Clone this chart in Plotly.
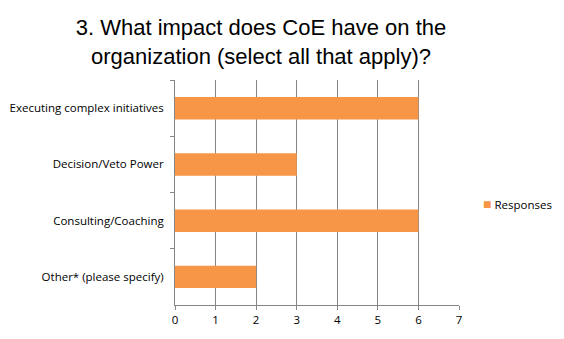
import plotly.graph_objects as go

categories = ["Executing complex initiatives", "Decision/Veto Power", "Consulting/Coaching", "Other* (please specify)"]
responses = [6, 3, 6, 2]
x_ticks = [0, 1, 2, 3, 4, 5, 6, 7]
series_name = "Responses"
bar_color = "#F79646"

fig = go.Figure()
fig.add_trace(go.Bar(
    y=categories, x=responses, orientation="h", name=series_name,
    marker=dict(color=bar_color, line=dict(width=0)),
    width=0.4, showlegend=False,
))

fig.update_layout(
    width=564, height=339,
    margin=dict(l=175, r=105, t=80, b=34, autoexpand=False),
    paper_bgcolor="white", plot_bgcolor="white",
    title=dict(
        text="3. What impact does CoE have on the<br>organization (select all that apply)?",
        x=261 / 564, xref="container", xanchor="center",
        y=1 - 35 / 339, yref="container", yanchor="middle",
        font=dict(family="Liberation Sans, Arial", size=22, color="black"),
    ),
    font=dict(family="Open Sans, Calibri, sans-serif", size=11.5, color="black"),
    showlegend=False,
    bargap=0.6,
    annotations=[dict(
        text=f"<span style='color:{bar_color};font-size:14px'>■</span> {series_name}",
        xref="paper", yref="paper", x=(481 - 175) / 284, y=(305 - 203) / 225,
        xanchor="left", yanchor="middle", showarrow=False,
        font=dict(size=11.5, color="black"),
    )],
)
fig.update_xaxes(
    range=[0, 7], tickvals=x_ticks, showgrid=True, gridcolor="#868686", gridwidth=1,
    showline=True, linecolor="#868686", ticks="outside", ticklen=4, tickcolor="#868686",
    zeroline=False, fixedrange=True,
)
fig.update_yaxes(
    categoryorder="array", categoryarray=categories, autorange="reversed",
    showline=True, linecolor="#868686", ticks="outside", ticklen=4, tickcolor="#868686",
    tickson="boundaries", showgrid=False, ticklabelstandoff=8,
)

fig.write_html("out.html")
